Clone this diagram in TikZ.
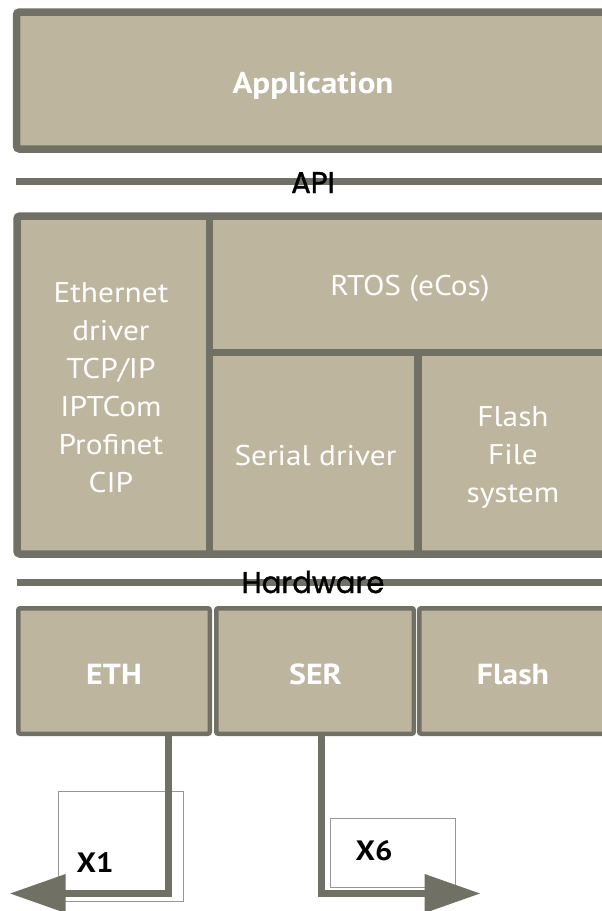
\documentclass[tikz,border=0pt]{standalone}
\usepackage{fontspec}
\setmainfont{PT Sans}[FakeStretch=1.1]
\newfontfamily\geofont{Poppins}[FakeBold=1.2,FakeStretch=0.97]
\usetikzlibrary{arrows.meta}
\definecolor{boxfill}{RGB}{190,181,158}
\definecolor{boxline}{RGB}{112,112,100}
\definecolor{thinline}{RGB}{150,150,150}
\begin{document}
\begin{tikzpicture}[x=1pt,y=-1pt,
  layer/.style={draw=boxline,fill=boxfill,line width=7.5pt,rounded corners=3pt},
  divider/.style={draw=boxline,line width=7.5pt},
  sepline/.style={draw=boxline,line width=7pt},
  hwbox/.style={draw=boxline,fill=boxfill,line width=4.5pt,rounded corners=2pt,inner sep=0pt},
  wtext/.style={text=white,inner sep=0pt,font=\fontsize{28.5}{38}\selectfont,align=center},
  btext/.style={text=white,inner sep=0pt,font=\fontsize{30}{36}\selectfont\bfseries},
  gtext/.style={text=black,inner sep=0pt,font=\geofont\fontsize{30}{34}\selectfont},
  xbox/.style={draw=thinline,fill=white,line width=1pt,inner sep=0pt},
  xlabel/.style={text=black,inner sep=0pt,font=\fontsize{28}{34}\selectfont\bfseries},
  conn/.style={draw=boxline,line width=7pt,-{Triangle[length=56pt,width=37pt]}}
]
\useasboundingbox (0,0) rectangle (602,911);
\clip (0,0) rectangle (602,911);

% Application layer
\path[layer] (16.5,12) rectangle (640,149);
\node[btext,anchor=base] (app) at (313,93) {Application};

% API line
\path[sepline] (16,181) -- (640,181);
\node[gtext,anchor=base] (api) at (313,193) {API};

% middle block
\path[layer] (17,216) rectangle (640,554);
\path[divider] (209.5,216) -- (209.5,554);
\path[divider] (209.5,352.5) -- (640,352.5);
\path[divider] (418,352.5) -- (418,554);
\node[wtext] (ethstack) at (111,387.5) {Ethernet\\driver\\TCP/IP\\IPTCom\\Profinet\\CIP};
\node[wtext,anchor=base] (rtos) at (410,295) {RTOS (eCos)};
\node[wtext,anchor=base] (serial) at (315.5,465) {Serial driver};
\node[wtext] (flashfs) at (513,457.5) {Flash\\File\\system};

% Hardware line
\path[sepline] (17,582) -- (640,582);
\node[gtext,anchor=base] (hw) at (313,593) {Hardware};

% hardware boxes
\node[hwbox,minimum width=191.5pt,minimum height=125.5pt] (eth) at (114,671) {};
\node[hwbox,minimum width=197.5pt,minimum height=125.5pt] (ser) at (315,671) {};
\node[hwbox,minimum width=188.5pt,minimum height=125.5pt] (flash) at (513.5,671) {};
\node[btext,anchor=base,font=\fontsize{29}{34}\selectfont\bfseries] (ethl) at (114,684) {ETH};
\node[btext,anchor=base,font=\fontsize{29}{34}\selectfont\bfseries] (serl) at (315.5,684) {SER};
\node[btext,anchor=base,font=\fontsize{29}{34}\selectfont\bfseries] (flashl) at (513,684) {Flash};

% connector frames
\node[xbox,minimum width=125pt,minimum height=110pt] (x1box) at (120.9,846) {};
\node[xbox,minimum width=125.7pt,minimum height=69pt] (x6box) at (392.9,852.5) {};
\node[xlabel,anchor=base] (x1) at (95,872) {X1};
\node[xlabel,anchor=base] (x6) at (374,860) {X6};

% connectors
\coordinate (e1) at (168.5,893.5);
\coordinate (e1tip) at (9.6,893.5);
\coordinate (s1) at (321.5,893.5);
\coordinate (s1tip) at (480.6,893.5);
\draw[conn] (eth.south -| e1) -- (e1) -- (e1tip);
\draw[conn] (ser.south -| s1) -- (s1) -- (s1tip);
\end{tikzpicture}
\end{document}
